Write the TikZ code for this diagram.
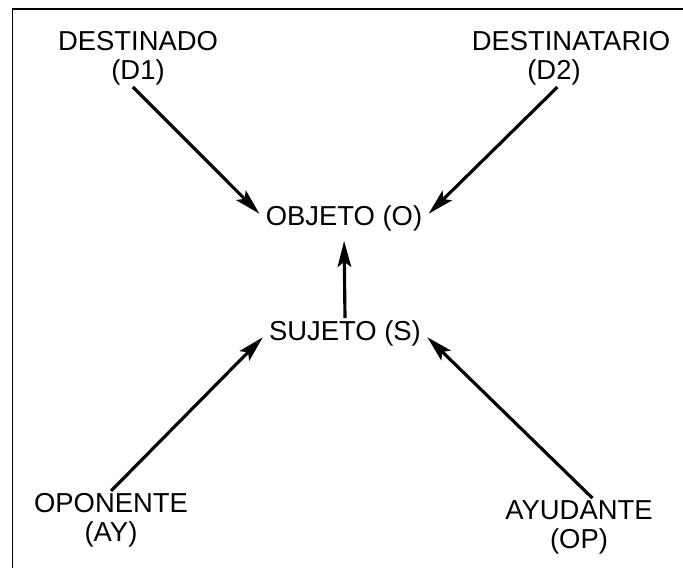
\documentclass[tikz,border=0pt]{standalone}
\usepackage{fontspec}
\setmainfont{Liberation Sans}
\usetikzlibrary{arrows.meta}

\begin{document}
\begin{tikzpicture}[x=0.02cm, y=-0.02cm,
	every node/.style={align=center, inner sep=1pt, font=\fontsize{15.6}{16.5}\selectfont},
	act/.style={line width=1.8pt, -{Stealth[length=5.2mm, width=2.7mm, inset=1mm]}, shorten >=1.2mm}]

		  \useasboundingbox (0,0) rectangle (683,568);

		  % Frame
		  \draw[line width=1.1pt] (683,9) -- (12.5,9) -- (12.5,568);

		  % Nodes top
		  \node (D1) at (138,58) {DESTINADO\\(D1)};
		  \node (D2) at (571,58) {DESTINATARIO\\(D2)\hspace*{6.8mm}};

		  % Nodes middle
		  \node (O) at (344,218) {OBJETO (O)};
		  \node (S) at (345,333) {SUJETO (S)};

		  % Nodes bottom
		  \node (OP) at (111,520) {OPONENTE\\(AY)};
		  \node (AY) at (579,527) {AYUDANTE\\(OP)};

		  % Draw arrows to the object and the subject
		  \draw[act] (D1.-100) -- (O.west);
		  \draw[act] (D2.-115) -- (O.east);
		  \draw[act, shorten >=1.6mm] (S.north) -- (O.south);
		  \draw[act] (OP.north) -- (S.west);
		  \draw[act] (AY.65) -- (S.east);

		\end{tikzpicture}
\end{document}
